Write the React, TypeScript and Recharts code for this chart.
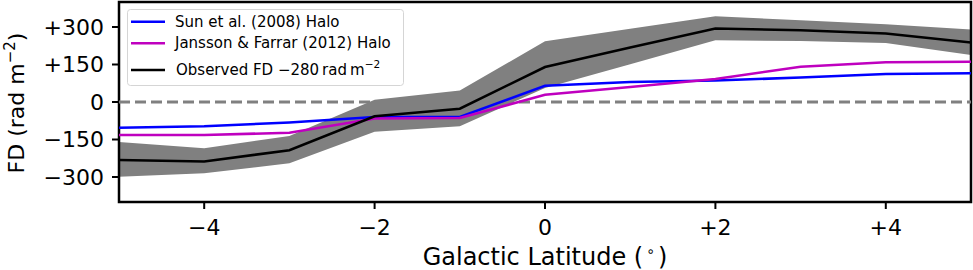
import {
  ComposedChart,
  Area,
  Line,
  XAxis,
  YAxis,
  ReferenceLine,
  ReferenceArea,
  Legend,
} from "recharts";

const latitudes = [-5, -4, -3, -2, -1, 0, 1, 2, 3, 4, 5];
const sunHalo = [-103, -97, -82, -60, -60, 65, 80, 86, 98, 112, 115];
const janssonHalo = [-132, -132, -123, -66, -64, 29, 60, 92, 141, 159, 161];
const observedFD = [-232, -238, -193, -57, -27, 140, 218, 294, 287, 274, 238];
const observedLow = [-299, -285, -245, -119, -97, 56, 151, 247, 244, 236, 188];
const observedHigh = [-160, -185, -136, 9, 46, 243, 293, 343, 327, 311, 290];

const xTicks = [-4, -2, 0, 2, 4];
const yTicks = [-300, -150, 0, 150, 300];

const FONT = "'DejaVu Sans', sans-serif";

const data = latitudes.map((lat, i) => ({
  lat,
  sun: sunHalo[i],
  jansson: janssonHalo[i],
  observed: observedFD[i],
  band: [observedLow[i], observedHigh[i]],
}));

const signed = (v: number) => (v > 0 ? `+${v}` : v < 0 ? `\u2212${Math.abs(v)}` : "0");

const legendItems = [
  { color: "#0000ff", label: "Sun et al. (2008) Halo" },
  { color: "#bf00bf", label: "Jansson & Farrar (2012) Halo" },
];

function LegendBox() {
  return (
    <svg width={277} height={77} style={{ display: "block", fontFamily: FONT }}>
      <rect x={0.5} y={0.5} width={276} height={76} rx={3} fill="#fff" fillOpacity={0.8} stroke="#d5d5d5" />
      {legendItems.map((it, i) => (
        <g key={it.label}>
          <line x1={4} x2={38} y1={12.7 + i * 21.6} y2={12.7 + i * 21.6} stroke={it.color} strokeWidth={2.6} />
          <text x={48} y={17.8 + i * 21.6} fontSize={15} fill="#000">
            {it.label}
          </text>
        </g>
      ))}
      <line x1={4} x2={38} y1={61} y2={61} stroke="#000" strokeWidth={2.6} />
      <text x={49} y={66} fontSize={15} fill="#000">
        Observed FD {"\u2212"}280
        <tspan dx={3}>rad</tspan>
        <tspan dx={3}>m</tspan>
        <tspan dy={-7} fontSize={10.5}>{"\u2212"}2</tspan>
      </text>
    </svg>
  );
}

export default function App() {
  return (
    <div style={{ position: "absolute", left: 0, top: 0, background: "#fff" }}>
      <ComposedChart
        width={973}
        height={270}
        data={data}
        margin={{ top: 2, right: 2, bottom: 0, left: 0 }}
      >
        <XAxis
          dataKey="lat"
          type="number"
          domain={[-5, 5]}
          ticks={xTicks}
          tickFormatter={signed}
          height={68}
          axisLine={false}
          tickLine={{ stroke: "#000", strokeWidth: 2 }}
          tickSize={7}
          tickMargin={10}
          tick={{ fill: "#000", fontSize: 22, fontFamily: FONT }}
          label={{
            content: () => (
              <text x={545} y={265} textAnchor="middle" fontSize={24} fontFamily={FONT} fill="#000">
                Galactic Latitude (
                <tspan dx={3} dy={-9} fontSize={14}>{"\u2218"}</tspan>
                <tspan dx={3} dy={9}>)</tspan>
              </text>
            ),
          }}
        />
        <YAxis
          type="number"
          domain={[-400, 400]}
          ticks={yTicks}
          tickFormatter={signed}
          width={119}
          axisLine={false}
          tickLine={{ stroke: "#000", strokeWidth: 2 }}
          tickSize={7}
          tickMargin={8}
          tick={{ fill: "#000", fontSize: 22, fontFamily: FONT }}
          label={{
            content: () => (
              <text
                transform="translate(24,103) rotate(-90)"
                textAnchor="middle"
                fontSize={22}
                fontFamily={FONT}
                fill="#000"
              >
                FD (rad m
                <tspan dy={-9} fontSize={15}>{"\u2212"}2</tspan>
                <tspan dy={9}>)</tspan>
              </text>
            ),
          }}
        />
        <Area
          dataKey="band"
          type="linear"
          stroke="none"
          fill="#808080"
          fillOpacity={1}
          dot={false}
          activeDot={false}
          isAnimationActive={false}
        />
        <ReferenceLine y={0} stroke="#808080" strokeWidth={2.8} strokeDasharray="11 5" />
        <Line dataKey="sun" type="linear" stroke="#0000ff" strokeWidth={2.6} dot={false} isAnimationActive={false} />
        <Line dataKey="jansson" type="linear" stroke="#bf00bf" strokeWidth={2.6} dot={false} isAnimationActive={false} />
        <Line dataKey="observed" type="linear" stroke="#000" strokeWidth={2.6} dot={false} isAnimationActive={false} />
        <ReferenceArea x1={-5} x2={5} y1={-400} y2={400} fill="none" stroke="#000" strokeWidth={2.5} />
        <Legend
          layout="vertical"
          align="center"
          verticalAlign="middle"
          wrapperStyle={{ left: 127, top: 9, width: 277 }}
          content={() => <LegendBox />}
        />
      </ComposedChart>
    </div>
  );
}
